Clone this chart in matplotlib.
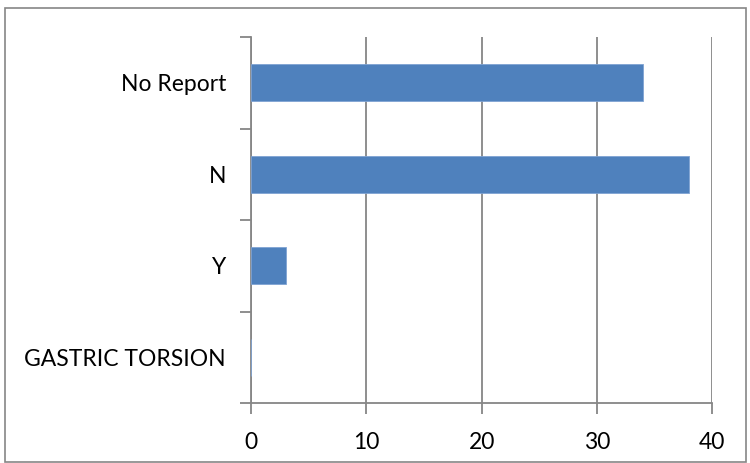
import matplotlib
matplotlib.use("Agg")
import matplotlib.pyplot as plt
from matplotlib.patches import Rectangle

categories = ["GASTRIC TORSION", "Y", "N", "No Report"]
values = [0, 3, 38, 34]
x_ticks = [0, 10, 20, 30, 40]

plt.rcParams['font.family'] = ['Lato', 'DejaVu Sans']

fig = plt.figure(figsize=(7.5, 4.63), dpi=100)
ax = fig.add_axes([251/750, 1-403/463, (712.3-251)/750, (403-37)/463])

gray = "#868686"
bar_color = "#4F81BD"

pos = list(range(len(categories)))
ax.barh(pos, values, height=0.4, color=bar_color, edgecolor="#7FA3D3", linewidth=0.6, zorder=3)

ax.set_xlim(0, 40)
ax.set_ylim(-0.5, len(categories) - 0.5)
ax.set_xticks(x_ticks)
ax.set_xticklabels([str(t) for t in x_ticks])

# category boundary ticks (major) and labels (minor)
ax.set_yticks([p - 0.5 for p in range(len(categories) + 1)])
ax.set_yticklabels([])
ax.set_yticks(pos, minor=True)
ax.set_yticklabels(categories, minor=True)
ax.tick_params(axis='y', which='major', length=8, width=1.3, color=gray, direction='out')
ax.tick_params(axis='y', which='minor', length=0, pad=18, labelsize=16.5, labelcolor='black')
ax.tick_params(axis='x', which='major', length=8, width=1.3, color=gray, direction='out', pad=13, labelsize=16.5)

ax.grid(axis='x', color=gray, linewidth=1.3, zorder=0)
ax.set_axisbelow(True)
for s in ['top', 'right']:
    ax.spines[s].set_visible(False)
for s in ['left', 'bottom']:
    ax.spines[s].set_color(gray)
    ax.spines[s].set_linewidth(1.3)

# outer chart border
fig.patches.append(Rectangle((5/750, 1 - 462/463), 741/750, (462 - 8)/463,
                             transform=fig.transFigure, fill=False,
                             edgecolor=gray, linewidth=1.2))

fig.savefig("out.png", dpi=100)
